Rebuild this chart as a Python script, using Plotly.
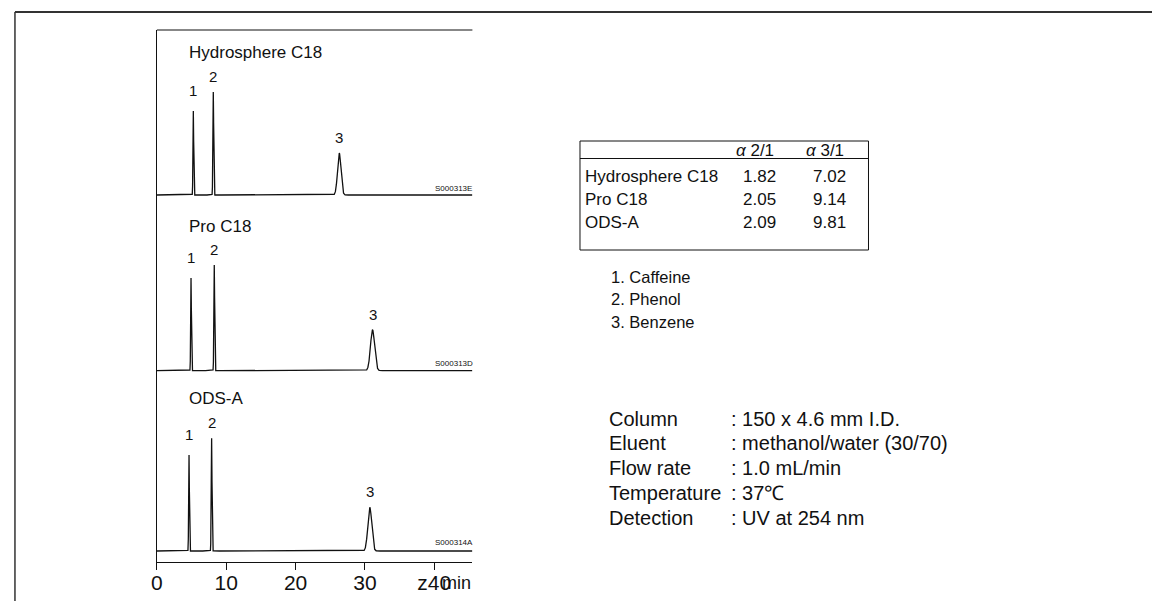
import numpy as np
import plotly.graph_objects as go

# ---------------- data ----------------
columns = ["Hydrosphere C18", "Pro C18", "ODS-A"]
sample_ids = ["S000313E", "S000313D", "S000314A"]
peak_labels = ["1", "2", "3"]

# retention times (min) of peaks 1, 2, 3 per column
rt_hydrosphere = [5.25, 8.13, 26.3]
rt_pro = [4.92, 8.27, 31.1]
rt_ods = [4.63, 7.89, 30.7]
# peak heights (arbitrary detector units)
h_hydrosphere = [84, 103, 42]
h_pro = [92.7, 105.7, 40.7]
h_ods = [96, 112.7, 43.7]
# peak widths (sigma, min)
w_hydrosphere = [0.05, 0.055, 0.25]
w_pro = [0.05, 0.055, 0.3]
w_ods = [0.05, 0.055, 0.28]

# selectivity table
alpha_21 = ["1.82", "2.05", "2.09"]
alpha_31 = ["7.02", "9.14", "9.81"]

compounds = ["1. Caffeine", "2. Phenol", "3. Benzene"]
cond_names = ["Column", "Eluent", "Flow rate", "Temperature", "Detection"]
cond_values = [": 150 x 4.6 mm I.D.", ": methanol/water (30/70)", ": 1.0 mL/min",
               ": 37\u2103", ": UV at 254 nm"]

x_ticks = [0, 10, 20, 30, 40]
x_tick_text = ["0", "10", "20", "30", "z40"]
x_unit = "min"
t_max = 45.5

# ---------------- layout helpers ----------------
W, H = 1152, 601
def px(x):
    return x / W
def py(y):
    return 1 - y / H

FONT = "Liberation Sans, Arial, Helvetica, sans-serif"
INK = "#111111"

# panel stacking (vertical offsets in detector units; y axis spans 0..532)
offsets = [367, 191.3, 11]
label_shift = [10, 5, 5]
plot_left, plot_top, plot_bottom = 151.7, 30, 562
plot_right = plot_left + t_max * 6.97

rts = [rt_hydrosphere, rt_pro, rt_ods]
hs = [h_hydrosphere, h_pro, h_ods]
ws = [w_hydrosphere, w_pro, w_ods]

t = np.arange(0, t_max + 0.0001, 0.004)

fig = go.Figure()
annotations = []
for i in range(3):
    sig = np.zeros_like(t)
    for rt, h, w in zip(rts[i], hs[i], ws[i]):
        sig += h * np.exp(-0.5 * ((t - rt) / w) ** 2)
    fig.add_trace(go.Scatter(x=t, y=sig + offsets[i], mode="lines",
                             line=dict(color=INK, width=1.3),
                             hoverinfo="skip", showlegend=False))
    for k, (lab, rt, h) in enumerate(zip(peak_labels, rts[i], hs[i])):
        annotations.append(dict(x=rt, y=offsets[i] + h, xref="x", yref="y",
                                text=lab, showarrow=False, yanchor="bottom",
                                yshift=label_shift[k],
                                font=dict(family=FONT, size=15, color=INK)))
    # column title
    title_y = [52, 226, 398][i]
    annotations.append(dict(x=px(182), y=py(title_y), xref="paper", yref="paper",
                            text=columns[i], showarrow=False, xanchor="left",
                            yanchor="middle", font=dict(family=FONT, size=17, color=INK)))
    sid_y = [189, 363.5, 542.7][i]
    annotations.append(dict(x=px(429), y=py(sid_y), xref="paper", yref="paper",
                            text=sample_ids[i], showarrow=False, xanchor="left",
                            yanchor="middle", font=dict(family=FONT, size=8, color=INK)))

# unit label overlapping the last tick label (as in the original)
annotations.append(dict(x=px(436), y=py(582.5), xref="paper", yref="paper", text=x_unit,
                        showarrow=False, xanchor="left", yanchor="middle",
                        font=dict(family=FONT, size=18, color=INK)))

# ---------------- table ----------------
tb_l, tb_t, tb_r, tb_b = 577, 141, 867, 250
shapes = [
    dict(type="rect", xref="paper", yref="paper", x0=px(tb_l), x1=px(tb_r),
         y0=py(tb_b), y1=py(tb_t), line=dict(color=INK, width=1)),
    dict(type="line", xref="paper", yref="paper", x0=px(tb_l), x1=px(tb_r),
         y0=py(158.5), y1=py(158.5), line=dict(color=INK, width=1)),
    # outer frame
    dict(type="line", xref="paper", yref="paper", x0=px(9), x1=1,
         y0=py(12), y1=py(12), line=dict(color="#333333", width=2)),
    dict(type="line", xref="paper", yref="paper", x0=px(9), x1=px(9),
         y0=py(12), y1=0, line=dict(color="#333333", width=1.5)),
    # plot top line
    dict(type="line", xref="paper", yref="paper", x0=px(plot_left), x1=px(plot_right),
         y0=py(plot_top), y1=py(plot_top), line=dict(color=INK, width=1.2)),
]
tf = dict(family=FONT, size=17, color=INK)
annotations.append(dict(x=px(753), y=py(150), xref="paper", yref="paper",
                        text="<i>\u03b1</i> 2/1", showarrow=False, xanchor="center",
                        yanchor="middle", font=tf))
annotations.append(dict(x=px(823), y=py(150), xref="paper", yref="paper",
                        text="<i>\u03b1</i> 3/1", showarrow=False, xanchor="center",
                        yanchor="middle", font=tf))
row_y = [177, 200, 222]
for name, a, b, yy in zip(columns, alpha_21, alpha_31, row_y):
    annotations.append(dict(x=px(580), y=py(yy), xref="paper", yref="paper", text=name,
                            showarrow=False, xanchor="left", yanchor="middle", font=tf))
    annotations.append(dict(x=px(757), y=py(yy), xref="paper", yref="paper", text=a,
                            showarrow=False, xanchor="center", yanchor="middle", font=tf))
    annotations.append(dict(x=px(828), y=py(yy), xref="paper", yref="paper", text=b,
                            showarrow=False, xanchor="center", yanchor="middle", font=tf))

# compounds list
for c, yy in zip(compounds, [277, 299, 322]):
    annotations.append(dict(x=px(606), y=py(yy), xref="paper", yref="paper", text=c,
                            showarrow=False, xanchor="left", yanchor="middle",
                            font=dict(family=FONT, size=16.5, color=INK)))

# conditions
cf = dict(family=FONT, size=20, color=INK)
for n, v, yy in zip(cond_names, cond_values, [419, 443, 468, 493, 518]):
    annotations.append(dict(x=px(604), y=py(yy), xref="paper", yref="paper", text=n,
                            showarrow=False, xanchor="left", yanchor="middle", font=cf))
    annotations.append(dict(x=px(727), y=py(yy), xref="paper", yref="paper", text=v,
                            showarrow=False, xanchor="left", yanchor="middle", font=cf))

fig.update_layout(
    width=W, height=H, margin=dict(l=0, r=0, t=0, b=0),
    paper_bgcolor="white", plot_bgcolor="white",
    xaxis=dict(domain=[px(plot_left), px(plot_right)], range=[0, t_max],
               showgrid=False, zeroline=False, showline=True, linecolor=INK,
               linewidth=1.3, ticks="outside", ticklen=7, tickwidth=1.2,
               tickcolor=INK, tickvals=x_ticks, ticktext=x_tick_text,
               ticklabelstandoff=-5,
               tickfont=dict(family=FONT, size=21, color=INK)),
    yaxis=dict(domain=[py(plot_bottom), py(plot_top)], range=[0, plot_bottom - plot_top],
               showgrid=False, zeroline=False, showline=True, linecolor=INK,
               linewidth=1.3, showticklabels=False, ticks=""),
    shapes=shapes, annotations=annotations,
)

fig.write_html("out.html")
